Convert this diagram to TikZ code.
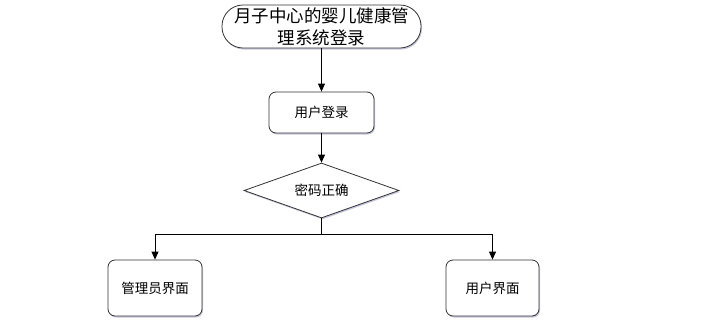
\documentclass[tikz,border=0pt]{standalone}
\usepackage{fontspec}
\newfontfamily\cjk{Noto Sans CJK SC}
\usetikzlibrary{shapes.geometric,arrows.meta,shadows}
\begin{document}
\begin{tikzpicture}[x=1pt,y=-1pt,
  every node/.style={font=\cjk\fontsize{13.5}{16}\selectfont},
  sh/.style={drop shadow={shadow xshift=1pt,shadow yshift=-1.5pt,fill=blue!25!gray,opacity=0.35}},
  box/.style={draw=black!80,line width=0.8pt,rounded corners=7pt,fill=white,sh,align=center,inner sep=0pt},
  arr/.style={-{Triangle[length=8pt,width=7pt]},line width=0.8pt}]
\useasboundingbox (0,0) rectangle (710,330);
\node[box,rounded corners=21pt,minimum width=199pt,minimum height=43pt,font=\cjk\fontsize{17.5}{22}\selectfont] (start) at (321.5,26.5) {月子中心的婴儿健康管\\理系统登录};
\node[box,minimum width=105pt,minimum height=41pt] (login) at (321.5,112.5) {用户登录};
\node[draw=black!80,line width=0.8pt,fill=white,sh,diamond,aspect=2.8,minimum width=155pt,minimum height=55pt,inner sep=0pt] (chk) at (321.5,190.5) {密码正确};
\node[box,minimum width=94pt,minimum height=56pt] (admin) at (155,288) {管理员界面};
\node[box,minimum width=93pt,minimum height=56pt] (user) at (492.5,288) {用户界面};
\coordinate (j) at (321.5,234);
\draw[arr] (start) -- (login);
\draw[arr] (login) -- (chk);
\draw[line width=0.8pt] (chk.south) -- (j);
\draw[arr] (j) -| (admin.north);
\draw[arr] (j) -| (user.north);
\end{tikzpicture}
\end{document}
